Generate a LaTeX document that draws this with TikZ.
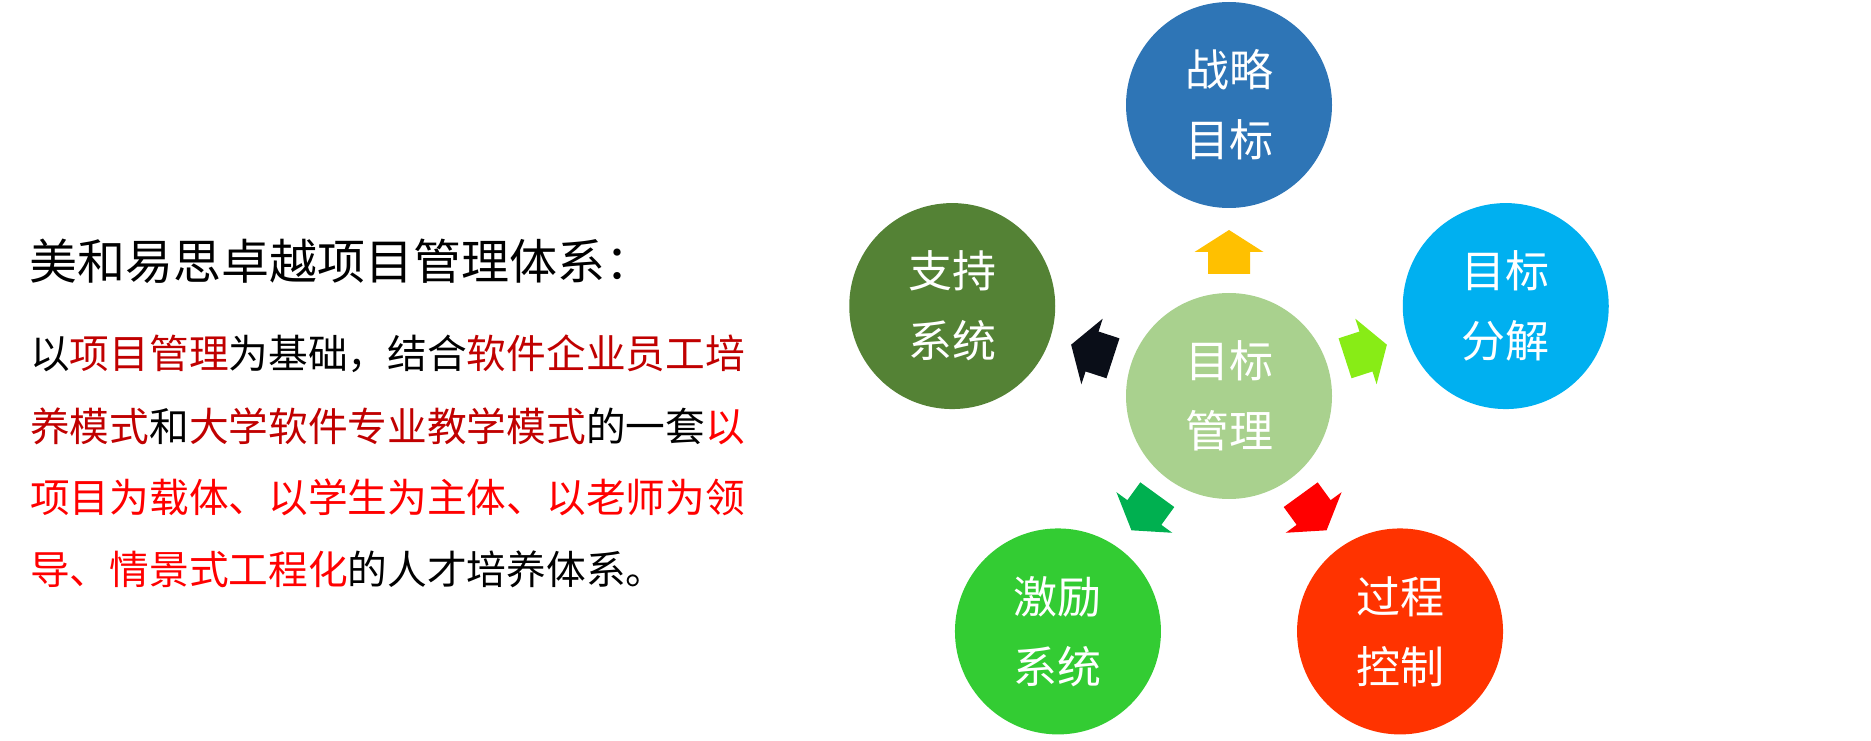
\documentclass[tikz,border=0pt]{standalone}
\usepackage{fontspec}
\setmainfont{Noto Sans CJK SC}
\usetikzlibrary{calc}
\definecolor{cTop}{HTML}{2E75B6}
\definecolor{cRight}{HTML}{00B0F0}
\definecolor{cBR}{HTML}{FF3300}
\definecolor{cBL}{HTML}{33CC33}
\definecolor{cLeft}{HTML}{548235}
\definecolor{cCenter}{HTML}{A9D18E}
\definecolor{aTop}{HTML}{FFC000}
\definecolor{aRight}{HTML}{88EC16}
\definecolor{aBR}{HTML}{FF0000}
\definecolor{aBL}{HTML}{00B050}
\definecolor{aLeft}{HTML}{0A0E18}
\definecolor{dkred}{HTML}{C00000}
\definecolor{brred}{HTML}{FF0000}
\begin{document}
\begin{tikzpicture}[x=1pt,y=1pt,
  circ/.style={circle, minimum size=206pt, inner sep=0pt, text=white, align=center,
    font=\fontsize{44}{70}\selectfont},
  txtline/.style={anchor=base west, inner sep=0pt, font=\fontsize{39.7}{50}\selectfont}]
\useasboundingbox (0,0) rectangle (1871,740);
% diagram
\node[circ, fill=cCenter] (c) at (1229,344) {目标\\管理};
\node[circ, fill=cTop]   (top)   at ($(c)+(90:291)$)  {战略\\目标};
\node[circ, fill=cRight] (right) at ($(c)+(18:291)$)  {目标\\分解};
\node[circ, fill=cBR]    (br)    at ($(c)+(-54:291)$) {过程\\控制};
\node[circ, fill=cBL]    (bl)    at ($(c)+(234:291)$) {激励\\系统};
\node[circ, fill=cLeft]  (left)  at ($(c)+(162:291)$) {支持\\系统};
\foreach \ang/\col in {90/aTop, 18/aRight, -54/aBR, 234/aBL, 162/aLeft}{
  \fill[\col, shift={(c.center)}, rotate=\ang]
    (122,-21) -- (144,-21) -- (144,-34.5) -- (166,0) -- (144,34.5) -- (144,21) -- (122,21) -- cycle;
}
% left text
\node[anchor=base west, inner sep=0pt, font=\fontsize{48}{52}\selectfont] (title) at (29,460) {美和易思卓越项目管理体系：};
\node[txtline] (l1) at (30,371) {以\textcolor{dkred}{项目管理}为基础，结合\textcolor{dkred}{软件企业员工培}};
\node[txtline] (l2) at (30,299) {\textcolor{dkred}{养模式}和\textcolor{dkred}{大学软件专业教学模式}的一套\textcolor{brred}{以}};
\node[txtline] (l3) at (30,228) {\textcolor{brred}{项目为载体、以学生为主体、以老师为领}};
\node[txtline] (l4) at (30,156) {\textcolor{brred}{导、情景式工程化}的人才培养体系。};
\end{tikzpicture}
\end{document}
